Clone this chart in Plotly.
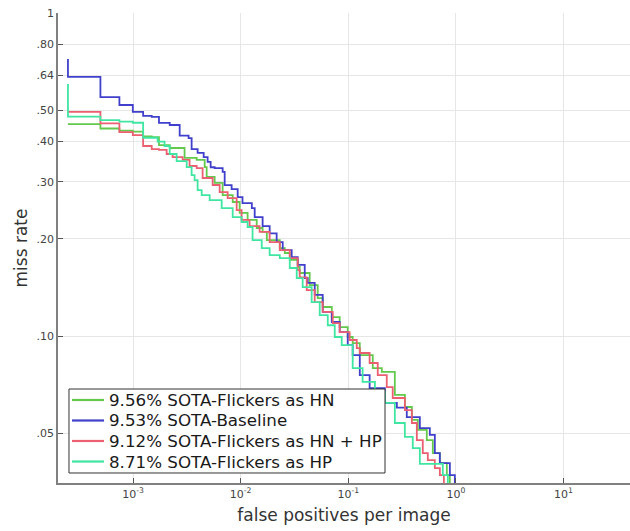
import plotly.graph_objects as go

# ---- data (fppi, miss rate) ----
names = ["9.56% SOTA-Flickers as HN", "9.53% SOTA-Baseline",
         "9.12% SOTA-Flickers as HN + HP", "8.71% SOTA-Flickers as HP"]
colors = ["#63c94c", "#4040cc", "#ec5f70", "#3fe6a2"]

hn_fppi = [2.48e-4, 4.97e-4, 7.46e-4, 9.94e-4, 1.24e-3, 1.49e-3, 1.74e-3, 2.19e-3, 3.01e-3, 3.90e-3,
           4.63e-3, 4.83e-3, 5.73e-3, 6.80e-3, 8.43e-3, 9.79e-3, 1.16e-2, 1.41e-2, 1.60e-2, 1.75e-2,
           2.31e-2, 2.57e-2, 2.86e-2, 3.39e-2, 3.54e-2, 4.38e-2, 5.20e-2, 5.79e-2, 7.03e-2, 8.33e-2,
           9.89e-2, 0.110, 0.128, 0.169, 0.205, 0.271, 0.336, 0.390, 0.443, 0.537, 0.611, 0.710,
           0.825, 0.880]
hn_mr = [0.453, 0.439, 0.4326, 0.4296, 0.4147, 0.413, 0.390, 0.382, 0.356, 0.351,
         0.3335, 0.311, 0.298, 0.273, 0.260, 0.2404, 0.2287, 0.216, 0.210, 0.198,
         0.187, 0.1807, 0.172, 0.1636, 0.1567, 0.1438, 0.131, 0.123, 0.1145, 0.1066,
         0.0993, 0.0951, 0.0873, 0.0796, 0.0774, 0.0657, 0.0603, 0.0550, 0.0512, 0.0476, 0.0434, 0.0404,
         0.0371, 0.033]

base_fppi = [2.48e-4, 2.48e-4, 4.97e-4, 7.46e-4, 9.94e-4, 1.24e-3, 1.49e-3, 1.74e-3, 2.19e-3, 2.71e-3,
             3.28e-3, 3.50e-3, 3.98e-3, 4.53e-3, 4.93e-3, 5.26e-3, 5.73e-3, 6.80e-3, 7.10e-3, 8.24e-3,
             9.38e-3, 1.04e-2, 1.27e-2, 1.35e-2, 1.60e-2, 1.86e-2, 2.16e-2, 2.46e-2, 2.98e-2, 3.39e-2,
             3.94e-2, 4.20e-2, 4.88e-2, 5.79e-2, 7.03e-2, 8.33e-2, 9.89e-2, 0.110, 0.128, 0.158,
             0.219, 0.283, 0.350, 0.463, 0.573, 0.638, 0.710, 0.880, 0.979]
base_mr = [0.720, 0.634, 0.549, 0.519, 0.494, 0.480, 0.477, 0.457, 0.450, 0.417,
           0.410, 0.379, 0.369, 0.358, 0.346, 0.333, 0.331, 0.322, 0.293, 0.285,
           0.269, 0.258, 0.249, 0.2335, 0.219, 0.208, 0.1954, 0.1845, 0.1756, 0.166,
           0.151, 0.146, 0.134, 0.1187, 0.1105, 0.1028, 0.0937, 0.0873, 0.0757, 0.069,
           0.0621, 0.0600, 0.0561, 0.0519, 0.0494, 0.0434, 0.0404, 0.0371, 0.033]

hnhp_fppi = [2.48e-4, 4.97e-4, 7.46e-4, 9.94e-4, 1.24e-3, 1.49e-3, 1.74e-3, 2.05e-3, 2.33e-3, 2.89e-3,
             3.35e-3, 3.90e-3, 4.43e-3, 5.49e-3, 6.38e-3, 7.57e-3, 9.18e-3, 1.02e-2, 1.21e-2, 1.50e-2,
             1.86e-2, 2.31e-2, 2.86e-2, 3.39e-2, 3.54e-2, 4.11e-2, 4.88e-2, 5.79e-2, 7.18e-2, 8.33e-2,
             0.103, 0.120, 0.128, 0.158, 0.188, 0.228, 0.259, 0.336, 0.390, 0.434, 0.493, 0.549,
             0.638, 0.710, 0.774]
hnhp_mr = [0.494, 0.455, 0.428, 0.419, 0.3875, 0.379, 0.377, 0.366, 0.358, 0.351,
           0.336, 0.331, 0.3085, 0.2934, 0.279, 0.2674, 0.2455, 0.2287, 0.219, 0.210,
           0.1954, 0.1845, 0.1743, 0.160, 0.152, 0.1388, 0.1274, 0.1187, 0.1096, 0.1028,
           0.0972, 0.0918, 0.0886, 0.0825, 0.0757, 0.0695, 0.0643, 0.0590, 0.0538, 0.0476, 0.0434, 0.0413,
           0.039, 0.0371, 0.033]

hp_fppi = [2.48e-4, 2.48e-4, 4.97e-4, 7.46e-4, 9.94e-4, 1.24e-3, 1.69e-3, 1.96e-3, 2.19e-3, 2.54e-3,
           3.15e-3, 3.50e-3, 3.73e-3, 3.98e-3, 4.34e-3, 5.15e-3, 6.66e-3, 8.43e-3, 1.02e-2, 1.16e-2,
           1.29e-2, 1.57e-2, 1.86e-2, 2.31e-2, 2.86e-2, 3.32e-2, 3.77e-2, 4.57e-2, 5.43e-2, 6.45e-2,
           7.49e-2, 8.70e-2, 0.110, 0.136, 0.177, 0.219, 0.271, 0.336, 0.398, 0.463, 0.757, 0.843]
hp_mr = [0.603, 0.478, 0.466, 0.461, 0.4574, 0.411, 0.3996, 0.3875, 0.366, 0.348,
         0.3335, 0.315, 0.304, 0.283, 0.273, 0.2636, 0.249, 0.2335, 0.2254, 0.2175,
         0.198, 0.187, 0.178, 0.1743, 0.1624, 0.151, 0.1418, 0.1274, 0.116, 0.108,
         0.0993, 0.0937, 0.0796, 0.0721, 0.0671, 0.0621, 0.0538, 0.0487, 0.045, 0.0402, 0.0371, 0.033]

y_tickvals = [0.05, 0.10, 0.20, 0.30, 0.40, 0.50, 0.64, 0.80, 1.0]
y_ticktext = [".05", ".10", ".20", ".30", ".40", ".50", ".64", ".80", "1"]
x_tickvals = [1e-3, 1e-2, 1e-1, 1e0, 1e1]
x_ticktext = ["10<sup>-3</sup>", "10<sup>-2</sup>", "10<sup>-1</sup>", "10<sup>0</sup>", "10<sup>1</sup>"]

series = [(hn_fppi, hn_mr), (base_fppi, base_mr), (hnhp_fppi, hnhp_mr), (hp_fppi, hp_mr)]

FONT = "DejaVu Sans"
fig = go.Figure()
for (xs, ys), name, col in zip(series, names, colors):
    fig.add_trace(go.Scatter(x=xs, y=ys, mode="lines", name=name, showlegend=False,
                             line=dict(color=col, width=1.8, shape="hv")))

# ---- custom legend box (paper coordinates) ----
shapes = [dict(type="rect", xref="paper", yref="paper", x0=0.0192, x1=0.5717, y0=0.0213, y1=0.2,
               fillcolor="white", line=dict(color="#333333", width=1), layer="above")]
annotations = []
row_y = [0.1766, 0.133, 0.0894, 0.0457]
for name, col, yy in zip(names, colors, row_y):
    shapes.append(dict(type="line", xref="paper", yref="paper", x0=0.0245, x1=0.0804, y0=yy, y1=yy,
                       line=dict(color=col, width=2.2), layer="above"))
    annotations.append(dict(xref="paper", yref="paper", x=0.0857, y=yy, xanchor="left", yanchor="middle",
                            text=name, showarrow=False,
                            font=dict(family=FONT, size=16.7, color="#1a1a1a")))

fig.update_layout(
    width=630, height=531,
    margin=dict(l=58, r=0, t=13, b=48),
    plot_bgcolor="white", paper_bgcolor="white",
    font=dict(family=FONT, color="#333333"),
    showlegend=False,
    shapes=shapes, annotations=annotations,
)
fig.update_xaxes(type="log", range=[-3.698, 1.619],
                 tickvals=x_tickvals, ticktext=x_ticktext,
                 tickfont=dict(size=11, color="#444444"),
                 showgrid=True, gridcolor="#e6e6e6", gridwidth=1,
                 showline=True, linecolor="#808080", linewidth=1.5,
                 ticks="inside", ticklen=5, tickcolor="#555555",
                 zeroline=False,
                 title=dict(text="false positives per image", font=dict(size=17, color="#333333"), standoff=9))
fig.update_yaxes(type="log", range=[-1.455, 0],
                 tickvals=y_tickvals, ticktext=y_ticktext,
                 tickfont=dict(size=11, color="#444444"),
                 showgrid=True, gridcolor="#e6e6e6", gridwidth=1,
                 showline=True, linecolor="#808080", linewidth=1.5,
                 ticks="inside", ticklen=5, tickcolor="#555555",
                 zeroline=False,
                 title=dict(text="miss rate", font=dict(size=17, color="#333333"), standoff=5))

fig.write_html("out.html")
